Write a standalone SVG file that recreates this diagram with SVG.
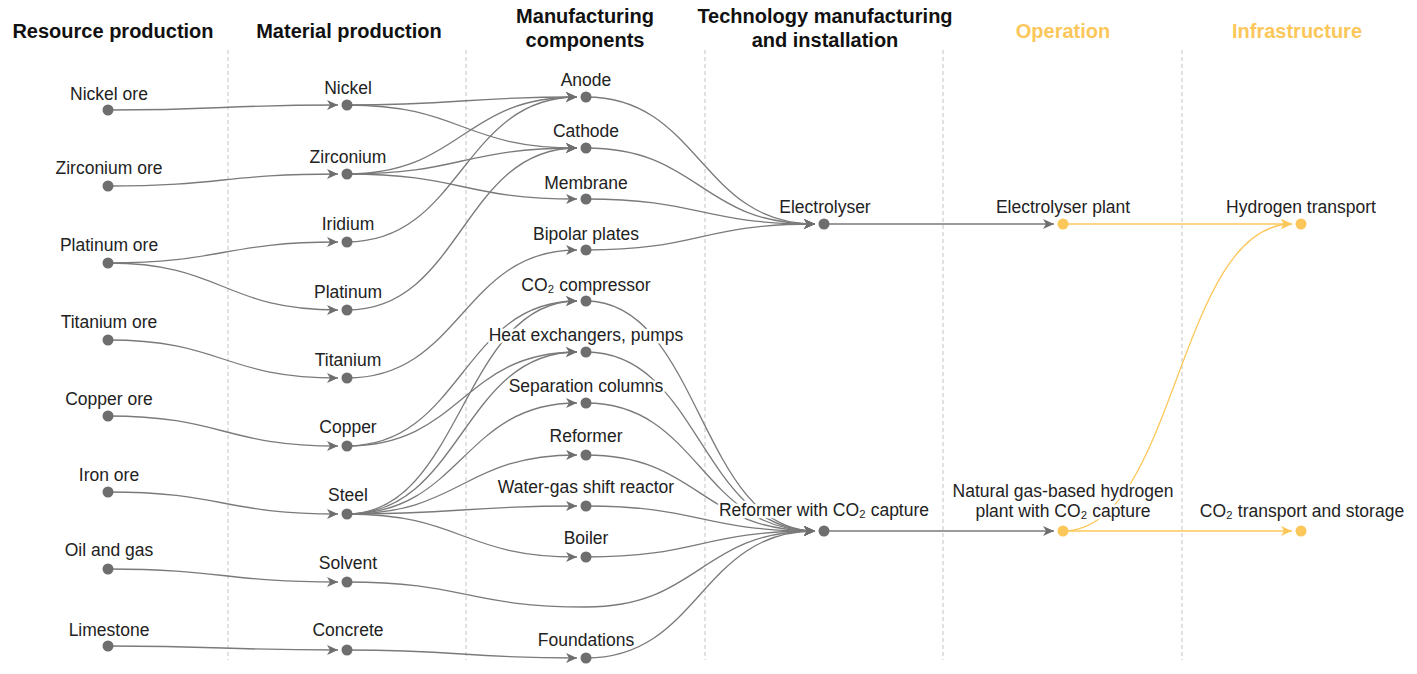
<svg xmlns="http://www.w3.org/2000/svg" width="1417" height="674" viewBox="0 0 1417 674">
<style>
.hd{font-family:"Liberation Sans",Arial,sans-serif;font-size:20px;font-weight:bold;fill:#111;text-anchor:middle}
.hy{fill:#FCC75A}
.lb{font-family:"Liberation Sans",Arial,sans-serif;font-size:17.5px;fill:#222;text-anchor:middle;stroke:#fff;stroke-width:5;stroke-linejoin:round;paint-order:stroke}
.nd{fill:#6e6e6e}
.ny{fill:#FCC75A}
.div{stroke:#c4c4c4;stroke-width:1;stroke-dasharray:4 3;fill:none}
.e{fill:none;stroke:#7a7a7a;stroke-width:1.3;marker-end:url(#ag)}
.ey{fill:none;stroke:#FCC75A;stroke-width:1.3;marker-end:url(#ay)}
</style>
<defs>
<marker id="ag" markerUnits="userSpaceOnUse" markerWidth="12" markerHeight="11" refX="11" refY="5" orient="auto" viewBox="0 0 12 11">
<path d="M0,0 L11,5 L0,10 L3,5 Z" fill="#6e6e6e"/>
</marker>
<marker id="ay" markerUnits="userSpaceOnUse" markerWidth="12" markerHeight="11" refX="11" refY="5" orient="auto" viewBox="0 0 12 11">
<path d="M0,0 L11,5 L0,10 L3,5 Z" fill="#FCC75A"/>
</marker>
</defs>
<rect width="1417" height="674" fill="#fff"/>
<g id="headers">
<text class="hd" x="113" y="38">Resource production</text>
<text class="hd" x="349" y="38">Material production</text>
<text class="hd" x="585" y="23">Manufacturing</text>
<text class="hd" x="585" y="47">components</text>
<text class="hd" x="825" y="23">Technology manufacturing</text>
<text class="hd" x="825" y="47">and installation</text>
<text class="hd hy" x="1063" y="38">Operation</text>
<text class="hd hy" x="1297" y="38">Infrastructure</text>
</g>
<g id="dividers">
<line class="div" x1="228" y1="50" x2="228" y2="660"/>
<line class="div" x1="466" y1="50" x2="466" y2="660"/>
<line class="div" x1="705" y1="50" x2="705" y2="660"/>
<line class="div" x1="943" y1="50" x2="943" y2="660"/>
<line class="div" x1="1182" y1="50" x2="1182" y2="660"/>
</g>
<g id="connectors">
<path class="e" d="M108,110 C223,110 223,105 338,105"/>
<path class="e" d="M108,186 C223,186 223,174 338,174"/>
<path class="e" d="M108,263 C223,263 223,242 338,242"/>
<path class="e" d="M108,263 C223,263 223,310 338,310"/>
<path class="e" d="M108,340 C223,340 223,378 338,378"/>
<path class="e" d="M108,416 C223,416 223,446 338,446"/>
<path class="e" d="M108,492 C223,492 223,514 338,514"/>
<path class="e" d="M108,569 C223,569 223,582 338,582"/>
<path class="e" d="M108,646 C223,646 223,650 338,650"/>
<path class="e" d="M347,105 C462,105 462,97 577,97"/>
<path class="e" d="M347,105 C462,105 462,148 577,148"/>
<path class="e" d="M347,174 C462,174 462,97 577,97"/>
<path class="e" d="M347,174 C462,174 462,148 577,148"/>
<path class="e" d="M347,174 C462,174 462,199 577,199"/>
<path class="e" d="M347,242 C462,242 462,97 577,97"/>
<path class="e" d="M347,310 C462,310 462,148 577,148"/>
<path class="e" d="M347,378 C462,378 462,250 577,250"/>
<path class="e" d="M347,446 C462,446 462,301 577,301"/>
<path class="e" d="M347,446 C462,446 462,352 577,352"/>
<path class="e" d="M347,514 C462,514 462,301 577,301"/>
<path class="e" d="M347,514 C462,514 462,352 577,352"/>
<path class="e" d="M347,514 C462,514 462,403 577,403"/>
<path class="e" d="M347,514 C462,514 462,455 577,455"/>
<path class="e" d="M347,514 C462,514 462,506 577,506"/>
<path class="e" d="M347,514 C462,514 462,557 577,557"/>
<path class="e" d="M347,650 C462,650 462,658 577,658"/>
<path class="e" d="M586,97 C700,97 700,224 815,224"/>
<path class="e" d="M586,148 C700,148 700,224 815,224"/>
<path class="e" d="M586,199 C700,199 700,224 815,224"/>
<path class="e" d="M586,250 C700,250 700,224 815,224"/>
<path class="e" d="M586,301 C700,301 700,531 815,531"/>
<path class="e" d="M586,352 C700,352 700,531 815,531"/>
<path class="e" d="M586,403 C700,403 700,531 815,531"/>
<path class="e" d="M586,455 C700,455 700,531 815,531"/>
<path class="e" d="M586,506 C700,506 700,531 815,531"/>
<path class="e" d="M586,557 C700,557 700,531 815,531"/>
<path class="e" d="M586,658 C700,658 700,531 815,531"/>
<path class="e" d="M347,582 C466,582 466,607 586,607 C700,607 700,531 815,531"/>
<path class="e" d="M824,224 L1054,224"/>
<path class="e" d="M824,531 L1054,531"/>
<path class="ey" d="M1063,224 L1292,224"/>
<path class="ey" d="M1063,531 L1292,531"/>
<path class="ey" d="M1063,531 C1177,531 1177,224 1292,224"/>
</g>
<g id="n-nickel-ore"><text class="lb" x="109" y="100">Nickel ore</text><circle class="nd" cx="108" cy="110" r="5.5"/></g>
<g id="n-zirconium-ore"><text class="lb" x="109" y="174">Zirconium ore</text><circle class="nd" cx="108" cy="186" r="5.5"/></g>
<g id="n-platinum-ore"><text class="lb" x="109" y="251">Platinum ore</text><circle class="nd" cx="108" cy="263" r="5.5"/></g>
<g id="n-titanium-ore"><text class="lb" x="109" y="328">Titanium ore</text><circle class="nd" cx="108" cy="340" r="5.5"/></g>
<g id="n-copper-ore"><text class="lb" x="109" y="405">Copper ore</text><circle class="nd" cx="108" cy="416" r="5.5"/></g>
<g id="n-iron-ore"><text class="lb" x="109" y="481">Iron ore</text><circle class="nd" cx="108" cy="492" r="5.5"/></g>
<g id="n-oil-gas"><text class="lb" x="109" y="556">Oil and gas</text><circle class="nd" cx="108" cy="569" r="5.5"/></g>
<g id="n-limestone"><text class="lb" x="109" y="636">Limestone</text><circle class="nd" cx="108" cy="646" r="5.5"/></g>
<g id="n-nickel"><text class="lb" x="348" y="94">Nickel</text><circle class="nd" cx="347" cy="105" r="5.5"/></g>
<g id="n-zirconium"><text class="lb" x="348" y="163">Zirconium</text><circle class="nd" cx="347" cy="174" r="5.5"/></g>
<g id="n-iridium"><text class="lb" x="348" y="230">Iridium</text><circle class="nd" cx="347" cy="242" r="5.5"/></g>
<g id="n-platinum"><text class="lb" x="348" y="298">Platinum</text><circle class="nd" cx="347" cy="310" r="5.5"/></g>
<g id="n-titanium"><text class="lb" x="348" y="366">Titanium</text><circle class="nd" cx="347" cy="378" r="5.5"/></g>
<g id="n-copper"><text class="lb" x="348" y="433">Copper</text><circle class="nd" cx="347" cy="446" r="5.5"/></g>
<g id="n-steel"><text class="lb" x="348" y="501">Steel</text><circle class="nd" cx="347" cy="514" r="5.5"/></g>
<g id="n-solvent"><text class="lb" x="348" y="569">Solvent</text><circle class="nd" cx="347" cy="582" r="5.5"/></g>
<g id="n-concrete"><text class="lb" x="348" y="636">Concrete</text><circle class="nd" cx="347" cy="650" r="5.5"/></g>
<g id="n-anode"><text class="lb" x="586" y="86">Anode</text><circle class="nd" cx="586" cy="97" r="5.5"/></g>
<g id="n-cathode"><text class="lb" x="586" y="137">Cathode</text><circle class="nd" cx="586" cy="148" r="5.5"/></g>
<g id="n-membrane"><text class="lb" x="586" y="189">Membrane</text><circle class="nd" cx="586" cy="199" r="5.5"/></g>
<g id="n-bipolar-plates"><text class="lb" x="586" y="240">Bipolar plates</text><circle class="nd" cx="586" cy="250" r="5.5"/></g>
<g id="n-co2-compressor"><text class="lb" x="586" y="291">CO₂ compressor</text><circle class="nd" cx="586" cy="301" r="5.5"/></g>
<g id="n-heat-exchangers"><text class="lb" x="586" y="341">Heat exchangers, pumps</text><circle class="nd" cx="586" cy="352" r="5.5"/></g>
<g id="n-separation-columns"><text class="lb" x="586" y="392">Separation columns</text><circle class="nd" cx="586" cy="403" r="5.5"/></g>
<g id="n-reformer"><text class="lb" x="586" y="442">Reformer</text><circle class="nd" cx="586" cy="455" r="5.5"/></g>
<g id="n-wgs-reactor"><text class="lb" x="586" y="493">Water-gas shift reactor</text><circle class="nd" cx="586" cy="506" r="5.5"/></g>
<g id="n-boiler"><text class="lb" x="586" y="544">Boiler</text><circle class="nd" cx="586" cy="557" r="5.5"/></g>
<g id="n-foundations"><text class="lb" x="586" y="646">Foundations</text><circle class="nd" cx="586" cy="658" r="5.5"/></g>
<g id="n-electrolyser"><text class="lb" x="825" y="213">Electrolyser</text><circle class="nd" cx="824" cy="224" r="5.5"/></g>
<g id="n-reformer-ccs"><text class="lb" x="824" y="516">Reformer with CO₂ capture</text><circle class="nd" cx="824" cy="531" r="5.5"/></g>
<g id="n-electrolyser-plant"><text class="lb" x="1063" y="213">Electrolyser plant</text><circle class="ny" cx="1063" cy="224" r="5.5"/></g>
<g id="n-ng-plant"><text class="lb" x="1063" y="497">Natural gas-based hydrogen</text><text class="lb" x="1063" y="517">plant with CO₂ capture</text><circle class="ny" cx="1063" cy="531" r="5.5"/></g>
<g id="n-hydrogen-transport"><text class="lb" x="1301" y="213">Hydrogen transport</text><circle class="ny" cx="1301" cy="224" r="5.5"/></g>
<g id="n-co2-transport"><text class="lb" x="1302" y="517">CO₂ transport and storage</text><circle class="ny" cx="1301" cy="531" r="5.5"/></g>
</svg>
